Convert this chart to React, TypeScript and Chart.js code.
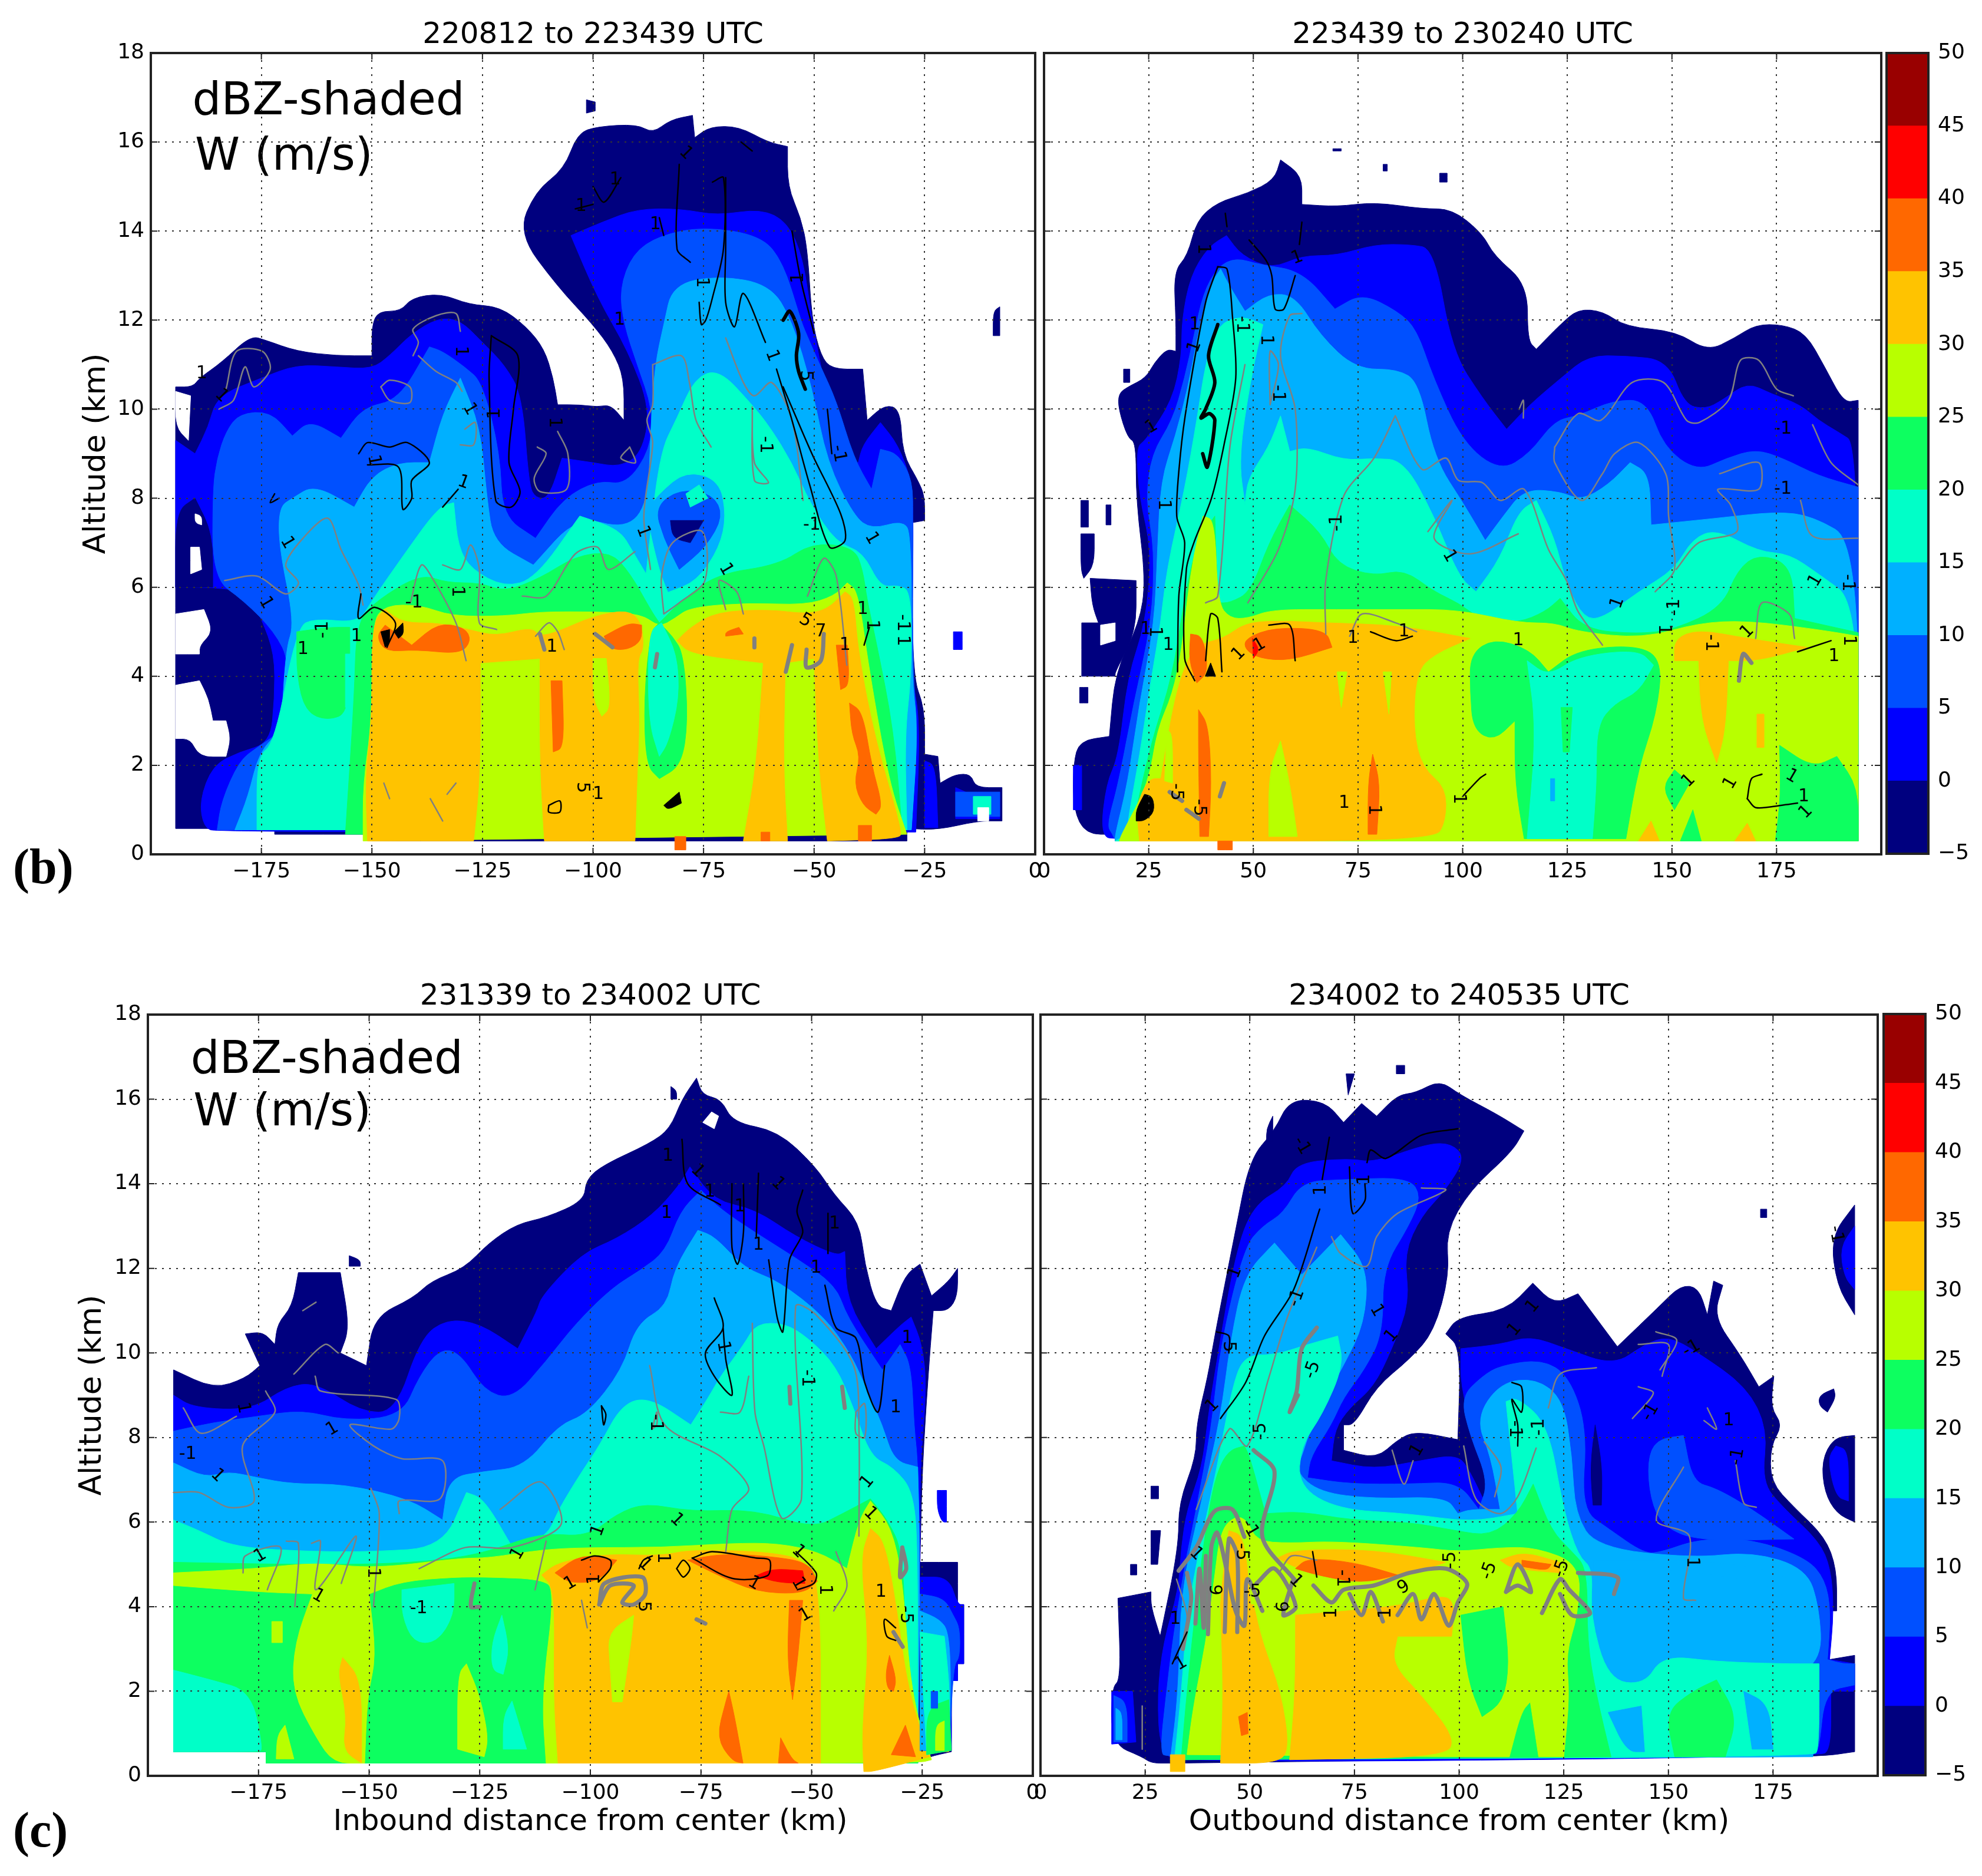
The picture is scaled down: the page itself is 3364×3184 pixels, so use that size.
import React, { useEffect, useRef } from "react";
import { Chart, registerables } from "chart.js";

Chart.register(...registerables);

// dBZ classes, -5 to 50 every 5
const dbzEdges = [-5, 0, 5, 10, 15, 20, 25, 30, 35, 40, 45, 50];
const dbzColors = ["#00007f", "#0000ff", "#0050ff", "#00b0ff", "#00ffc8", "#0dff60", "#b8ff00", "#ffc300", "#ff6800", "#ff0000", "#990000"];
const WHITE = -1;
const BLACK = -2;

type Layer = [number, number[]];
type Label = [number, number, string, number];

// ---------- 220812 to 223439 UTC
const a0 = [-194.4,10.5,-190.5,10.5,-189,10.7,-184,11.05,-177.5,11.65,-174,11.55,-167,11.3,-158,11.2,-150,11.2,-150,11.9,-148.5,12.2,-143.5,12.2,-141,12.5,-134.5,12.6,-128,12.35,-121,12.3,-115,11.85,-111,11.35,-109,10.7,-108,10.1,-103,10.1,-99,10.05,-96,10.1,-93,9.75,-93,10.7,-95.5,11.3,-100,11.9,-108,12.75,-117,13.95,-113,14.9,-106.5,15.4,-103.5,16.2,-99,16.35,-90,16.4,-86.5,16.2,-82.5,16.5,-77.5,16.6,-77,16.1,-73.5,16.35,-67,16.35,-60.5,16,-56,15.9,-56,15,-53,14.3,-51.5,13.6,-50.5,12,-48.5,11.2,-46,10.9,-39,10.9,-38,9.75,-34,10.1,-30.5,10,-30,9,-26.5,8.4,-25,8.05,-25,7.5,-27.8,7.45,-27.8,4,-25,3.3,-25,2.25,-22,2.2,-21.5,1.6,-18,1.8,-14.5,1.8,-13.5,1.5,-7.5,1.5,-7.5,0.75,-13,0.75,-22,0.55,-29,0.58,-29,0.3,-150,0.3,-150,0.45,-172,0.45,-172,0.58,-194.4,0.58];
const a0b = [-101.5,16.95,-99.5,16.9,-99.5,16.7,-101.5,16.65];
const a0c = [-9.5,12.2,-8,12.3,-8,11.65,-9.5,11.65];
const a0d = [-18.5,5,-16.5,5,-16.5,4.6,-18.5,4.6];
const a1 = [-194.4,9.3,-190,9,-187,9.6,-185,10.3,-175,10.7,-167,11,-158,10.95,-150,10.9,-146,11.2,-141,11.7,-135,12.05,-130,12,-125,11.5,-120,11,-116,10.3,-114.5,8.3,-113,8,-110,8,-107,8.9,-100,8.8,-94,8.7,-89,9,-87,10,-92,11.3,-99,12.5,-105,13.9,-98,14.2,-90,14.5,-80,14.5,-72,14.35,-62,14.5,-56,14.2,-52.5,13.4,-50.5,12,-48.5,11,-46,9.6,-44,8.8,-40,8.8,-39,9.2,-35,9.7,-31,9.2,-28,8.4,-27.5,7.5,-28,4,-26,3,-27,0.5,-185,0.5,-188,0.6,-189,1.2,-186,2,-180,2.3,-173,2.5,-172,3.5,-172,4.5,-175,5.3,-178,5.9,-186,6,-194.4,6];
const a1b = [-25,2.1,-22.5,2,-22,0.6,-25,0.6];
const a1c = [-18,1.5,-13.5,1.3,-8,1.4,-8,0.8,-18,0.8];
const a1d = [-18,1.4,-8,1.4,-8,0.85,-18,0.85];
const a1e = [-14,1.3,-10,1.3,-10,0.9,-14,0.9];
const a2 = [-185,0.55,-184,1.2,-180,2.1,-176,2.4,-170,2.8,-168.5,4.3,-172,5,-179,5.7,-186,6.2,-186,8.2,-185,8.9,-183,9.5,-180,9.9,-173,9.95,-168,9.4,-164,9.75,-157,9.35,-152,10.05,-144,10.2,-137,11.4,-134,11.3,-129,10.95,-125,10.6,-121,9,-120.5,7.6,-113,7.1,-106.7,8,-99,8.4,-92.5,8.3,-87,9.1,-86.5,10,-90,11,-93,11.9,-94,12.7,-91,13.5,-85,13.9,-75,14.1,-62,13.9,-57,13.3,-53,12,-51.8,11.7,-48.5,10.95,-45,10.2,-41,8.9,-37,8.2,-35,9.1,-31,9,-27.7,8.4,-27.7,7.5,-27.7,4,-26.5,2.8,-28,0.6];
const a3 = [-181,0.55,-178,1.3,-175.5,2.3,-170.5,2.8,-169.5,4.6,-167.5,5.2,-171,6.9,-171,7.8,-168,8,-163,8.3,-154,7.8,-150,8.5,-144,8.8,-137,8.8,-134,9.9,-130,10.7,-125.5,9.6,-124,8,-122.5,7,-113.5,6.5,-103.5,7.6,-92.5,7.3,-87.5,7.9,-87,9.5,-86,11,-84,11.9,-82,12.8,-71.5,13,-60,12.8,-55,12,-50.5,10.5,-47,8.8,-41,7.6,-37,7.3,-30,7.5,-28,7.2,-28,4,-26.5,2.8,-28,0.55];
const a4 = [-176,0.55,-176,2.2,-172,2.5,-167,5.1,-163,5.3,-153,5.2,-150,5.7,-143,6.7,-135,7.8,-131.5,7.9,-130.5,6.9,-127.5,6.4,-120,6,-113,6.2,-103,7.6,-94,7.3,-91,6.8,-88,6.3,-85,9,-81,9.8,-77,10.7,-71.5,10.9,-64,10.1,-60,9.6,-55,8.8,-51,7.9,-45,7,-39,6.8,-35,6,-31,6.05,-28,5.9,-28,4,-29.5,2.7,-29,0.55];
const a5 = [-156,0.45,-154,3.5,-153.5,5.2,-149,5.7,-139,6.3,-133,6.1,-125.5,6.1,-120,5.9,-112,6.2,-104,6.7,-96,6.8,-91.5,6.3,-87,5.5,-85,5.2,-80,5.7,-72,6.3,-58,6.5,-50.5,7,-41,6.9,-39,6.4,-38,5.7,-36,4.8,-32,2.8,-30,0.45];
const a5b = [-167,5,-160,5.1,-155,5.1,-155,3.2,-160,3,-165,3.2,-167,4];
const a6 = [-152,0.3,-152,1.6,-150,3,-150,5.2,-147,5.6,-139,5.6,-132,5.35,-120,5.35,-112,5.45,-99,5.45,-89,5.4,-85,5.1,-81.5,5.3,-78,5.55,-65,5.65,-52,5.6,-45.5,5.8,-42.5,6.1,-40,5.9,-37.5,4.1,-33,1.6,-29,0.45];
const a7 = [-151,0.3,-151.5,1.8,-150,3,-150,5.2,-147,5.5,-143,5.2,-135,5.2,-128,5.05,-122,4.9,-114,5.1,-112,4.9,-108,5,-100,5.35,-92,5.5,-89,5.2,-88.5,4.6,-90,4.4,-89.5,3,-90,1.8,-90.5,0.3,-111,0.3,-112,2,-112,4.4,-125.5,4.3,-125.5,1.8,-127,0.3];
const a7b = [-81,4.8,-78,5.1,-72,5.45,-60,5.5,-52,5.4,-47,5.5,-43,5.9,-41,5.75,-40,4.5,-36,2.5,-30,0.5,-31,0.35,-47,0.3,-49,2,-50,4.4,-56.5,4.3,-57,2,-56,0.3,-66,0.3,-63,2,-61.5,4.3,-78,4.5];
const a8 = [-149,4.9,-147,5.15,-141,4.7,-135,5.2,-129,5.1,-127.5,4.8,-130,4.5,-140,4.6,-147,4.55];
const a8b = [-97.5,4.9,-92,5.2,-89,5.15,-89,4.8,-92,4.6,-96,4.6];
const a8c = [-109.5,3.9,-107,3.9,-106.5,2.4,-109,2.3];
const a8d = [-42,3.4,-39,3.2,-37,2,-34.5,1.1,-36,0.9,-39,1.1,-41,1.6,-39.5,2.2,-41.5,2.7];
const a8e = [-45,4.7,-42.5,4.7,-42,3.8,-44,3.7];
const a8f = [-70,5,-67,5.1,-66,4.95,-70,4.9];
const a8g = [-62,0.3,-60,0.3,-60,0.5,-62,0.5];
const a8h = [-40,0.3,-37,0.3,-37,0.65,-40,0.65];
const a8i = [-81.5,0.1,-79,0.1,-79,0.4,-81.5,0.4];
const aCol4 = [-87,5,-85,5.2,-82,4.9,-79.5,4.5,-78.5,3,-80,2,-85,1.7,-88,2,-88.5,3.5];
const aCol3 = [-87.5,5,-84.5,5.2,-81,4.5,-80.5,3.5,-83,2.5,-85,2.2,-87.5,3];
const aNotch = [-100,4.4,-97,4.4,-96,3.3,-98,3.1,-100,3.5];
const aLeft3 = [-156,4.5,-154.5,4.5,-154.5,3.3,-156,3.3];
const aEyeRing = [-88,7.7,-85,8.1,-79,8.6,-71.5,8.4,-70,7.6,-71.5,6.9,-76.5,6.15,-83,5.9,-85,6.4];
const aEye5 = [-86,7.8,-80.5,8.2,-73,8.1,-70.5,7.6,-74.5,6.9,-80.5,6.4,-84,7.1];
const aEye0 = [-82.5,7.5,-75,7.5,-78,7,-82,7.1];
const aEyeTop = [-79,8.1,-76,8.3,-74,8,-78,7.8];
const aNavyLeft = [-194.4,7.7,-190,8,-186,7.2,-186,6,-194.4,6];
const aHoles = [
  [-194.4,5.4,-188,5.5,-186,5,-189,4.7,-189,4.5,-194.4,4.5],
  [-194.4,3.8,-189,3.9,-187,3.5,-186,3,-183,3,-182,2.6,-183,2.2,-189,2.2,-191,2.6,-194.4,2.6],
  [-191,6.9,-189,6.9,-188.5,6.4,-191,6.3],
  [-190,7.65,-188.5,7.6,-188.5,7.4,-190,7.45],
  [-194.4,10.4,-191,10.3,-191.5,9.3,-194.4,9.6],
  [-13,1.05,-10.5,1.05,-10.5,0.75,-13,0.75],
];
const layersA: Layer[] = [
  [0,a0],[0,a0b],[0,a0c],[1,a0d],[1,a1],[1,a1b],[1,a1c],[2,a1d],[4,a1e],[0,aNavyLeft],[2,a2],[3,a3],[4,a4],[5,a5],[5,a5b],[4,aLeft3],[6,a6],[7,a7],[7,a7b],
  [6,aNotch],[5,aCol4],[4,aCol3],[8,a8],[8,a8b],[8,a8c],[8,a8d],[8,a8e],[8,a8f],[8,a8g],[8,a8h],[8,a8i],
  [3,aEyeRing],[2,aEye5],[0,aEye0],[4,aEyeTop],
  ...aHoles.map((h): Layer => [WHITE,h]),
  [BLACK,[-148,5,-146,5.05,-146,4.75,-147,4.65]],[BLACK,[-145,5,-143,5.2,-142.8,4.95,-144,4.85]],[BLACK,[-84,1.1,-80.5,1.4,-80,1.15,-83,1]],
];
const blackA = [
  [-80.5,15.5,-81,13.6,-78,13.3],
  [-73,15.1,-70.5,15.2,-70.5,13.6,-73,12.5,-74.5,12,-75.5,11.9,-76,12.4],
  [-70,15.2,-70,13.6,-70,12.4,-68,11.85,-66,12.6,-61,11.5],
  [-58.5,10.9,-55,9.75,-51,8.3,-46.5,6.9,-43,7.05,-44,7.65,-50.5,9,-57,10.5],
  [-123,11.65,-117,11.2,-118,10,-119,8.8,-116.5,8.15,-118.5,7.8,-122,7.95,-123.5,10.7,-123,11.65],
  [-153,9,-151,9.25,-146,9.15,-142,9.25,-137,8.8,-141,8.4,-141,8,-143,7.75,-144,8.7,-151,8.75],
  [-55,14,-53,12.9,-50,11.7],
  [-47,10,-46,9],
  [-104,14.5,-100,14.6],
  [-100,15,-97.5,14.65,-93.7,15.2],
  [-66.5,16,-64,15.8],
  [-85,14.3,-84,13.9],
  [-152.5,5.85,-153,5.3,-149.4,5.55,-144.7,5.2,-146.6,4.65],
  [-110,1.1,-107.5,1.2,-107.5,0.95,-110,0.95,-110,1.1],
  [-38.7,4.7,-37.5,5.1],
  [-130.5,8.2,-134,7.8],
  [-171,8,-173,7.9,-172,8.1],
];
const heavyA = [[-57,12,-55.5,12.2,-53.5,11.7,-54,11.2,-53.5,10.85,-52,10.45]];
const grayA = [
  [-140.7,11.2,-139.5,11.5,-140.7,11.8,-135.5,12.1,-131,12.15,-130,11.75],
  [-139.5,11.2,-135.5,10.85,-131,10.6,-129.6,10.4],
  [-183,10.45,-180.6,11.3,-174.8,11.3,-173,10.9,-176.7,10.5,-178.7,10.95,-181.3,10.2,-184.6,10],
  [-148,10.5,-146,10.65,-141.4,10.5,-141.4,10.15,-146,10.2,-148,10.5],
  [-86.5,11,-80,11.2,-78.2,10.6,-76.7,9.75,-73.3,9.15],
  [-86.5,11,-86.5,10.1,-87.8,9.75,-86.5,9.25,-88.5,7.6,-87,6.4],
  [-70,11.6,-66,10.6,-63.5,10.3,-59.6,10.6,-55,9.75,-52.5,7.95],
  [-64,10.05,-63.5,8.8,-60.3,8.35,-63.5,8.4,-64,10.05],
  [-183.3,6.15,-176,6.25,-169.5,5.85,-166.6,6.1,-169.5,6.5,-165.6,7.1,-160,7.55,-157,6.85,-153,6.05,-152,5.6],
  [-134,6.5,-130,6.4,-127.7,6.95,-125.7,6.4,-125.7,5.2,-121.8,5.05],
  [-141.3,5.65,-138.8,6.5,-136,6.15,-131,5.2,-128.7,4.35],
  [-116,5.8,-110.6,5.8,-104,6.75,-99,6.9,-96.5,6.4,-90.5,6.8],
  [-84,5.4,-84.5,6.25,-82,7,-75.3,7.25,-74.7,6.15,-80.5,5.65,-84,5.4],
  [-70,5.5,-71.5,6.15,-67.5,5.9,-66,5.4],
  [-51.5,5.8,-47.8,6.65,-45,6.25,-42.6,4.25],
  [-147.3,1.6,-146,1.25],
  [-136.8,1.25,-134,0.75],
  [-131,1.6,-133,1.35],
  [-129,9.55,-126.6,9.7,-127,9.2,-130,9.2],
  [-112.6,9.15,-110.6,9,-113.3,8.45,-112,8.15,-106,8.2,-105.7,9,-108,9.5],
  [-91.7,9.15,-90.4,8.8,-93.7,8.9,-91.7,9.15],
  [-113,4.9,-110,5.2,-108,5,-106.5,4.6],
];
const thickGrayA = [
  [-112,4.95,-111,4.6],[-99.5,4.95,-95.6,4.65],[-56.4,4.1,-55,4.7],[-51.7,4.6,-51.7,4.2,-48.5,4.35,-47.8,4.95],[-63.5,4.85,-63.5,4.65],[-86,4.2,-85.5,4.5],
];
const labelsA: Label[] = [
  [-161,5.05,"-1",-90],[-165.6,4.6,"1",0],[-153.5,4.9,"1",0],[-140.5,5.65,"-1",0],[-130.7,5.9,"1",90],[-169.2,7,"1",60],[-174,5.65,"1",60],[-149.6,8.85,"1",80],[-129.3,8.35,"1",20],[-122.2,9.9,"1",-90],[-130,11.3,"1",90],[-127.9,10,"1",60],[-184,10.3,"1",45],[-188.5,10.8,"1",0],[-102.7,14.55,"1",0],[-95,15.15,"1",0],[-85.9,14.15,"1",0],[-79,15.75,"1",45],[-75.5,12.85,"1",90],[-94,12,"1",0],[-61,9.2,"-1",90],[-59.5,11.2,"1",70],[-52,10.75,"5",90],[-53.5,12.95,"1",-90],[-44.5,9,"-1",80],[-50.5,7.4,"-1",0],[-88.7,7.25,"1",70],[-70,6.4,"1",60],[-52,5.25,"5",30],[-48.5,5,"7",0],[-39,5.5,"1",0],[-37,7.1,"1",60],[-30,5.2,"-1",90],[-30,4.8,"1",90],[-43,4.7,"1",0],[-37,5.15,"1",90],[-108.8,9.7,"1",90],[-102.5,1.5,"5",90],[-98.8,1.35,"1",0],[-109.3,4.65,"1",0],
];

// ---------- 223439 to 230240 UTC
const b0 = [194.5,0.3,194.5,10.2,191,10.15,186.5,10.95,182,11.7,176.5,11.9,170,11.9,165,11.6,158.5,11.3,151,11.75,139,11.85,133.5,12.2,127.6,12.25,123.3,11.9,117.6,11.35,115.5,11.55,115.5,12.8,107.5,13.45,104.7,13.95,97.5,14.5,90.3,14.5,79,14.65,70,14.55,61.6,14.6,61.6,15.25,56.5,15.6,55,15.15,48.7,14.85,41.5,14.65,36.5,14.25,34.3,13.45,31,13.1,31.5,12,31.5,11.3,29.3,11.35,26.4,11.05,24.3,10.7,20,10.5,17.8,10.35,17.8,10,20,9.35,22,9.25,22,7.95,24.3,6.15,22.8,5.2,17,4.1,15.6,2.65,8.5,2.55,7,2.05,7,1,10,0.45,17,0.45,17,0.3];
const bNavyBlobs = [
  [8.8,7.95,10.6,7.95,10.6,7.35,8.8,7.35],
  [8.8,7.2,12,7.2,12,6.5,9.5,6.2,8.8,6.4],
  [11,6.2,22,6.15,22,5,17,4.1,17,4,9,4,9,5.2,13,5.2,11.5,5.6],
  [8.5,3.75,10.5,3.75,10.5,3.4,8.5,3.4],
  [14.8,7.85,16,7.85,16,7.4,14.8,7.4],
  [19,10.9,20.5,10.9,20.5,10.6,19,10.6],
  [81,15.5,82,15.5,82,15.35,81,15.35],
  [94.5,15.3,96.3,15.3,96.3,15.1,94.5,15.1],
  [69,15.85,71,15.85,71,15.8,69,15.8],
];
const b1 = [194.5,0.3,194.5,9.2,189.5,9.5,185,9.75,180.7,10.1,173.6,10.35,168,10.6,162,10.2,158,10,153,10.1,149,11.1,139,11.2,130,11.2,123.5,10.7,116,10.1,110.5,9.55,104.7,10.25,97.5,11.3,93.2,13.6,87.5,13.7,79,13.7,70,13.45,61.6,13.45,54.4,13.15,47.2,13.45,43.6,13.9,39.3,13.65,35,13,32.9,12,32.9,11.2,30.7,10.2,24.3,9.3,22,9.15,22.8,8,25.7,6.85,24.3,5.2,20,4,17.8,2.2,14.9,1.6,13.5,0.45,17,0.3];
const b1b = [7,2,9,2,9,1,7,1];
const b2 = [194.5,0.3,194.5,8.25,185,8.5,176.5,8.9,170,9.1,163,8.9,156,8.6,148,9.15,144,10.2,136,10.2,127.6,9.85,122,9.75,116,9,109,8.6,100,9.25,93,10.7,89,11.8,84.5,12.2,76,12.6,69.5,12.25,61.6,13.1,51.5,13.25,45.8,13.4,41.5,13.2,38,12.6,35.8,11.65,33.6,10.7,30.7,9.75,25.7,9,24.3,7.95,26.4,6.85,25.7,5.2,21.4,3.4,17.8,1.6,15,0.65,16.4,0.45,17,0.3];
const b3 = [194.5,0.3,194.5,7,183.6,7.6,175,7.7,160.7,7.55,145,7.4,144.6,8.55,140,8.8,134.8,8.3,128.4,7.95,123.3,8.15,114.7,8.2,109.7,7.6,105.4,7.05,100.4,7.85,93.2,8.9,89.6,10.6,84.5,10.9,74.5,10.9,66,11.65,60,12.55,53.7,12.6,48,12.2,44.4,12.75,42.2,13.15,39.3,12.75,36.5,11.55,34.3,10.45,31.4,9.4,27.9,8.4,27.1,6.85,26.4,5.2,22.8,3.4,20,1.6,17,0.45,17,0.3];
const b4 = [194.5,0.3,194.5,5.65,185,6.3,178,6.75,170.7,6.8,160.7,7.3,155,7.1,150.6,6.4,142,5.9,133.4,5.3,129,5.3,124.8,6.05,122,7.1,117.6,7.95,113.3,7.7,109,6.65,103.2,5.9,99,6.25,93.2,7.6,86,8.85,78.8,8.9,71.6,8.85,63,9.15,58.7,9.05,56.5,9.85,53.7,9.15,48.7,8.45,48,7.85,46.5,8.9,49.4,10.7,52.3,11.9,47.2,12.1,41.5,11.9,38.6,11.05,36.5,9.75,33.6,8.2,29.3,6.4,27.9,5.2,25.7,4,22.8,2.2,20,0.75,20,0.45,17,0.3];
const b5 = [194.5,0.3,194.5,4.98,179.3,5.3,178.6,6.5,170.7,6.75,165.7,6.4,162,5.55,150.6,5.05,142,4.95,129,5.05,123.3,5.75,119.7,5.45,113.3,5.2,104.7,5.25,99,5.65,93.2,5.9,86,6.4,78.8,6.25,70.2,6.5,66,7.25,58.7,7.85,53.7,7,49.4,5.9,44.4,5.65,41.5,5.65,40.8,7.6,36.5,7,33.6,5.8,30.7,4,25.7,2.55,22,1,20.7,0.4,18,0.3];
const b6 = [194.5,0.3,194.5,4.9,185,5.05,168,5.25,156.4,5.2,143,4.85,127.6,5,122,5.2,113.3,5.2,99,5.5,84.5,5.5,70,5.5,54.4,5.5,48.7,5.3,44.4,5.3,41.5,5.65,40.8,7.5,38,7.6,35.8,6.75,34.3,5.8,32.9,4.6,30.7,3.6,27,2.8,25,1.6,18.5,0.45,18,0.3];
const b7 = [32.9,4.05,36,4.7,43,4.85,48,5.2,55.9,5.25,67.3,5.2,84.6,5.15,101.8,4.85,93.2,4.5,88.9,4.1,88.2,2.8,90.3,1.95,96,1.5,96,0.75,93.2,0.3,22.8,0.3,22,1.1,25,1.7,27.9,1.7,30.7,3.25];
const b7b = [150.6,4.85,156.4,5.05,168,4.85,182.3,4.65,170.7,4.35,163.5,4.35,162.8,2.8,160.7,2.05,157,3,156.4,4.35,150.6,4.35];
const b7c = [170.3,3.15,172,3.15,172,2.4,170.3,2.4];
const b7d = [142,0.3,147,0.3,145,0.75];
const b7e = [165,0.3,170,0.3,168,0.7];
const bGreen = [101.8,4.5,107.5,4.85,116,4.6,120.5,4.1,127.6,4.6,142,4.7,147.7,4.35,146.3,3.15,142,1.95,139,0.35,114.7,0.35,112.5,1.6,112.5,3,107.5,2.55,102.5,2.8,101.8,3.65];
const bTeal = [115.4,4.35,120.5,4,127.6,4.45,142,4.6,145.6,4.25,142,3.65,136.3,3.4,132,2.9,132,1.6,131,0.35,115.4,0.35,117.6,2.8];
const bGreenSpot = [123.5,3.3,126.2,3.3,125.5,2.3,124,2.3];
const bBlueSpot = [121,1.7,122,1.7,122,1.2,121,1.2];
const bGreenRight = [175.7,2.45,183.6,1.95,189.4,2.2,194.5,1.5,194.5,0.3,174.7,0.3,176,1.3];
const bGreenA = [147.7,1.5,150.6,1.9,154.2,1.6,150.6,1];
const bGreenB = [152,0.3,155,1,157,0.3];
const bLimeA = [53.7,1.85,56.5,2.55,58.7,1.6,60.5,0.4,53.7,0.4];
const bLimeB = [70,4.1,72.4,4.1,71,3.3];
const bLimeC = [81,4.1,83,4.1,82.4,3.15];
const bLimeD = [29.3,2.8,30.7,2.7,30.7,1.6,28.8,1.65];
const b8 = [35,4.95,38,4.9,39.3,4.1,36.5,3.85,34.6,4.35];
const b8b = [48,4.85,55,5.1,67.3,5.05,68.8,4.65,58.7,4.35,51.5,4.4,48,4.6];
const b8c = [36.9,3.25,39.3,2.9,40,1.6,39.3,0.4,37.2,0.4,36.9,2.2];
const b8d = [77.4,1.6,78.5,2.25,80.3,1.6,79.5,0.45,77.4,0.45];
const b8e = [41.5,0.3,45,0.3,45,0.1,41.5,0.1];
const b9 = [49.8,4.85,51.5,4.6,50,4.4];
const bHoles = [[13.5,5.15,17,5.2,17,4.8,13.5,4.7]];
const layersB: Layer[] = [
  [0,b0],...bNavyBlobs.map((h): Layer => [0,h]),[1,b1b],[1,b1],[2,b2],[3,b3],[4,b4],[5,b5],[6,b6],[5,bGreen],[4,bTeal],[5,bGreenSpot],[3,bBlueSpot],[5,bGreenRight],[5,bGreenA],[5,bGreenB],
  [7,b7],[7,b7b],[7,b7c],[7,b7d],[7,b7e],[6,bLimeA],[6,bLimeB],[6,bLimeC],[6,bLimeD],[8,b8],[8,b8b],[8,b8c],[8,b8d],[8,b8e],[9,b9],
  ...bHoles.map((h): Layer => [WHITE,h]),
  [BLACK,[22,1,24,1.35,26,1.3,26.4,0.95,24,0.75,22,0.75]],[BLACK,[38.5,4,41,4,39.8,4.3]],
];
const blackB = [
  [41.5,13.2,43.7,13.15,45,12.1,45.8,10.7,43,9.2,40,8,35.8,7,34,6.4,33.6,4.4,36,3.9],
  [41.5,13.2,38.6,12.4,34.3,10.2,32.6,9,31.7,7.6,33.6,7,32.2,5.8,31.9,4.1],
  [38.6,4.35,39.8,5.4,41.5,5.3,42.5,4.1],
  [49,13.8,53,13.35,54.4,13,55.2,12.25,57.3,12.25,60,13],
  [61.6,14.2,61,13.7],
  [43.7,14.1,43.3,14.4],
  [53.7,5.15,58.7,5.15,60,4.35],
  [168,1.25,169,1.7,171.5,1.8],
  [168,1.25,170,1.05,176,1.1,180,1.15],
  [180,4.55,188,4.8],
  [100,1.3,104,1.7,105.5,1.8],
  [78,5,84,4.8,88,4.9],
];
const heavyB = [[41.5,11.9,39.3,11.2,40.8,10.6,38.6,10,37.5,9.8,39.5,9.9,40.8,9.75,39,8.7,37.9,9]];
const grayB = [
  [61.6,12.15,58.7,12.1,56.5,11.2,60,10,60,8.2,56,6.85,48.7,5.65],
  [48,11,44.4,9.15,41.5,5.8,38.6,5.65],
  [83.9,9.85,78.8,8.9,71.6,8.05,67.3,6.15,67.3,4.95],
  [83.9,9.85,90.3,8.65,96,8.9,99,8.4,104.7,8.35,109,7.95,114.7,8.2,120.5,6.85,124.8,6.15,127.6,5.45,133.4,4.7],
  [122,9.15,127.6,9.9,133,9.75,140.5,10.6,148,10.6,153.5,9.75,156.5,9.7,163.5,10.2,166.4,11.1,170.7,11.1,175,10.45,179,10.3],
  [122,9.15,122,8.8,128.4,7.95,133.4,8.55,136.3,9,142,9.25,148.5,8.55,149.2,7.6,150.6,6.4,146,5.9],
  [161.4,8.55,170.7,8.8,170.7,8.2,161,8.2,164,7.85,165.5,7.25,156.4,7,151,6.4],
  [183.6,9.65,188,8.8,194.5,8.3],
  [91.7,7.25,97.5,7.95,93.2,7.1,101.8,6.75,113.3,7.2],
  [180.7,7.95,183.6,7.15,194.5,7.1],
  [170,4.85,171.5,5.65,178,5.4,179.3,4.85],
  [54,10.1,56,11,54,11.3,54,10.1],
  [113.5,10,114.5,10.2,114.5,9.8],
  [73,4.9,76,5.4,84,5.2,89,5],
];
const thickGrayB = [[166,3.9,167,4.5,169,4.3],[34,1,37,0.8],[42,1.3,43,1.6],[30,1.4,33,1.2]];
const labelsB: Label[] = [
  [25.7,9.6,"1",-30],[28.5,7.85,"1",90],[36,11.9,"1",0],[36,11.4,"1",-70],[38,13.6,"1",90],[47.2,11.9,"-1",90],[53,11.55,"1",90],[55.9,10.35,"-1",90],[60.5,13.4,"1",-20],[70,7.45,"-1",-90],[96.8,6.7,"1",60],[24.3,5.05,"1",0],[26.4,5,"1",90],[29.7,4.7,"1",0],[46.5,4.5,"1",-45],[51.5,4.7,"1",-30],[113.3,4.8,"1",0],[73.8,4.85,"1",0],[86,5,"1",0],[137,5.65,"1",-70],[150.6,5.55,"-1",-90],[148,5.05,"1",90],[159.3,4.75,"-1",90],[168,5,"1",-45],[188.7,4.45,"1",0],[192.3,4.8,"1",90],[192,6.1,"-1",90],[184.3,6.15,"1",-60],[176.5,9.55,"-1",0],[176.5,8.2,"-1",0],[178.6,1.75,"1",30],[154,1.65,"1",-45],[164,1.6,"1",-60],[181.5,1.3,"1",0],[182,0.95,"1",-45],[31.5,1.4,"-5",90],[37,1.05,"-5",90],[71.7,1.15,"1",0],[78.8,1,"1",90],[99,1.25,"1",90],
];

// ---------- 231339 to 234002 UTC
const cTail = [-26,0.3,-173.3,0.3,-173.3,0.57,-194.2,0.57];
const c0 = [-194.2,9.6,-185,9.15,-178,9.4,-174.7,9.7,-178,10.45,-174,10.5,-171.3,10.2,-170.7,10.7,-167.4,11.1,-166,11.9,-156.5,11.9,-154.4,10.6,-156.5,10,-150.6,9.7,-149,10.85,-140,11.3,-136,11.7,-128.5,12,-123,12.6,-116.6,13.05,-110,13.2,-101.4,13.6,-101,14.1,-97,14.45,-86.6,14.95,-82,15.3,-79.3,16,-76,16.5,-74.7,16.1,-70.4,16,-67.8,15.45,-57.6,15.25,-49,14.4,-45,13.75,-39.2,13.1,-38,12.1,-35.4,11.1,-32,11,-28.8,11.85,-25.5,12.1,-22.9,11.35,-19,11.7,-17,12,-17,11.35,-19,11,-22.5,11,-23.5,9.7,-25,7.3,-25.5,5.05,-17,5.05,-17,4.05,-15.6,4.05,-15.6,2.65,-17,2.65,-17,2.25,-18.4,2.25,-18.4,0.57,-23.6,0.45,...cTail];
const c0b = [-154.5,12.3,-152,12.2,-152,12.05,-154.5,12.05];
const c0c = [-81.8,16.3,-80.5,16.2,-80.5,16,-81.8,16];
const c1 = [-194.2,9,-189.6,8.7,-176.5,8.65,-168.7,9.2,-162,9.3,-151.8,8.6,-144,8.6,-138.4,10.35,-132.5,10.8,-125,10.7,-116.4,10.1,-112,11,-111,11.35,-102,12.35,-94,12.7,-86,13.25,-80,13.95,-77.5,14.4,-72,13.6,-62.8,13.4,-53.6,12.75,-44.5,12.3,-42.5,12.4,-42,11.2,-35.4,10.1,-30,10.65,-27.5,10.85,-25,10.2,-24,9.2,-25.5,7.3,-25.5,5.05,...cTail];
const c1b = [-21.6,6.75,-19.5,6.75,-19.5,6,-20.5,6,-21.6,6.3];
const c2 = [-194.2,8.15,-185.5,8.35,-175.3,8.5,-165,8.65,-155.6,8.4,-142.6,8.5,-138.7,9.45,-134,10.1,-129.4,10,-124,9.1,-117.6,8.9,-110,9.8,-103.3,10.7,-95,11.55,-88.7,11.95,-83,12.4,-79.7,13.35,-75,13.85,-70.6,13.4,-62.8,12.85,-53.6,12.25,-44.5,11.6,-42,10.85,-34,9.6,-30,10.2,-27.5,9.7,-26.8,8.2,-26,7.45,-25.5,5.05,...cTail];
const c3 = [-194.2,7.4,-187,7.05,-181.8,7.2,-175.3,7.05,-167.4,6.9,-155.6,6.9,-141,6.55,-133.4,6.05,-132,7.05,-124,7.2,-115,7.3,-107.2,8.3,-100.7,8.55,-92.8,9.6,-89.5,10.7,-82.7,11.1,-81,12,-75.7,12.9,-71.8,12.75,-65.2,12,-57.4,11.7,-47,10.85,-41,9.95,-37.8,9.2,-34,8.3,-31.4,7.45,-26,7.3,-25.5,5.05,...cTail];
const c4 = [-194.2,6.05,-188.4,5.8,-180.5,5.4,-162,5.3,-149,5.3,-133.4,5.4,-128,6.7,-124,6.55,-117.6,5.4,-109.8,5.65,-107.2,6.3,-101.9,7.2,-98,7.8,-92.8,8.8,-86.6,8.95,-77.3,8.3,-73.3,8.95,-70.6,9.45,-65.3,10.2,-62.5,10.7,-56,10.7,-50.7,10.35,-44.5,9.7,-40.5,8.7,-36.7,7.55,-31.5,7.3,-26.8,6.7,-26,5.05,...cTail];
const c5 = [-194.2,5.05,-168.7,5,-149,5,-133.4,5.1,-123,5.3,-111.2,5.75,-100.7,5.65,-94,6.2,-87.6,6.45,-77.3,6.25,-62.8,6.3,-49.7,5.85,-43,6.2,-36.7,6.55,-32.8,6.05,-29.4,5.3,-28.8,3.15,-25.5,0.63,...cTail];
const cTealA = [-142.6,4.4,-130.8,4.55,-130.8,3.8,-134.7,3.15,-140,3.15,-142.6,3.8];
const cTealB = [-122.3,3.15,-120,3.8,-118.3,3,-119.7,2.4,-122.3,2.5];
const cTealC = [-194.2,2.5,-185.7,2.27,-176.6,2,-174,0.63,-175,0.57,-194.2,0.57];
const cTealD = [-119.7,1.4,-117.7,1.77,-114.4,0.63,-119.7,0.63];
const c6 = [-194.2,4.8,-175.3,4.9,-162,5.05,-149,4.9,-129.4,5.15,-123,5.15,-111,5.35,-100.7,5.4,-84,5.4,-68,5.5,-57.6,5.5,-48.4,5.3,-42,4.9,-39.3,6.05,-36.7,6.5,-32,5.9,-29.4,4.65,-27.5,1.9,-22.9,0.38,-26,0.3,-110,0.3,-111,1.9,-108,4.4,-111,4.65,-123,4.7,-130.8,4.7,-142.6,4.6,-150,4.3,-148.4,2.8,-150.4,1.9,-151,0.3,-158,0.3,-162,0.9,-167.4,2,-166.8,3.15,-162.8,4.3,-175.3,4.35,-194.2,4.5];
const c6b = [-130,2.4,-128,2.65,-125,1.9,-123,0.9,-124,0.45,-130,0.63];
const c6c = [-172,3.65,-169.6,3.65,-169.6,3.15,-172,3.15];
const c6d = [-170.8,0.95,-169,1.2,-167,0.4,-171,0.4];
const c7 = [-111,4.75,-107.3,5.05,-96.8,5.25,-84,5.2,-77.3,5.35,-60,5.3,-51,5.1,-48,4.3,-48,0.3,-107.3,0.3,-108.3,1.9,-108,4.4];
const c7b = [-39,5.15,-36.7,5.85,-33.5,5.55,-30.8,4,-28.2,2,-23.3,0.45,-36,0.1,-38.2,0.1,-38.6,1.1,-37,3.15];
const c7c = [-157,2.4,-156,2.8,-151.7,2.27,-151.7,0.3,-156,0.6,-155,1.4];
const c7d = [-21.5,1,-19,1,-19,0.57,-21.5,0.57];
const cLime = [-96,3.4,-90.2,3.8,-90.8,3.15,-92.8,1.75,-95,1.75,-95.6,2.65];
const c8 = [-108,4.8,-102,5.25,-94,5.1,-98,4.6,-104.6,4.55];
const c8b = [-78,5.1,-70.6,5.25,-60,5.2,-50.7,5.05,-48.7,4.6,-52,4.3,-62.6,4.35,-71.3,4.75];
const c8c = [-55,4.15,-52,4.15,-53,2.9,-54.3,1.8,-55.5,2.75];
const c8d = [-69.4,1.75,-68.7,2,-67.4,1.4,-65.5,0.3,-68,0.35,-71.5,0.9];
const c8e = [-57,0.9,-54.5,0.4,-53,0.3,-57.5,0.3];
const c8f = [-33.3,2.4,-32.4,2.85,-30.8,2.27,-31.5,2,-32.8,2.05];
const c8g = [-32,0.5,-28.8,1.2,-26.5,0.45];
const c9 = [-62.6,4.73,-58.8,4.9,-52,4.85,-51.5,4.55,-57.6,4.57];
const cRight1 = [-25.5,4.7,-19,4.7,-17,4.05,-15.6,4.05,-15.6,2.65,-17,2.65,-17,2.25,-18.4,2.25,-18.4,0.6,-25.5,0.6];
const cRight2 = [-25.5,4.3,-20,4.2,-18,3.8,-16.5,3.5,-16.5,2.8,-18,2.6,-18.8,0.6,-25.5,0.6];
const cRight3 = [-25.5,3.9,-21,3.7,-19,3.4,-18.5,2.2,-19,0.6,-25.5,0.6];
const cRight4 = [-25.5,3.4,-20,3.3,-18.7,2,-19,0.6,-24,0.5];
const cRight5 = [-24,1.6,-19,1.8,-18.4,0.6,-24,0.5];
const cRight6 = [-22,1.2,-20,1.3,-20,0.6,-22,0.6];
const cBlueSpot = [-23,2,-21.5,2,-21.5,1.6,-23,1.6];
const cHoles = [[-74.6,15.45,-72.6,15.7,-71,15.6,-72,15.3]];
const layersC: Layer[] = [
  [0,c0],[0,c0b],[0,c0c],[1,c1],[1,c1b],[2,c2],[3,c3],[4,c4],[5,c5],[4,cTealA],[4,cTealB],[4,cTealC],[4,cTealD],[6,c6],[6,c6b],[6,c6c],[6,c6d],[7,c7],[7,c7b],[7,c7c],[7,c7d],[6,cLime],
  [8,c8],[8,c8b],[8,c8c],[8,c8d],[8,c8e],[8,c8f],[8,c8g],[9,c9],
  [1,cRight1],[2,cRight2],[3,cRight3],[4,cRight4],[5,cRight5],[6,cRight6],[2,cBlueSpot],
  ...cHoles.map((h): Layer => [WHITE,h]),
];
const blackC = [
  [-72,11.3,-70,10.6,-74,10,-72,9.45,-68,9,-69.4,9.85,-70,10.6],
  [-68,14,-68,12.5,-66.7,12.1,-65.4,12.85,-65.4,14],
  [-62,14.25,-62.5,12.75],
  [-59.7,12.2,-57.8,10.85,-56.5,10.5,-55,12.2,-52,12.85,-53.3,13.35,-52,13.85],
  [-47,11.6,-44.5,10.6,-40,10.35,-38,9.3,-35,8.6,-33.5,9.7],
  [-46.3,13.3,-46.3,12.35],
  [-79.3,15.05,-78,14,-70.6,13.5],
  [-77,5.15,-72.5,5.3,-62.6,5.15,-59.5,5.1,-60,4.73,-68,4.67,-77,5.15],
  [-102,5.1,-99,5.2,-95.5,5.1,-95.5,4.9,-98,4.6],
  [-53.5,5.3,-49,4.8,-49.5,4.55,-53.2,4.4],
  [-80.5,4.9,-79,5.1,-77.5,4.9,-79,4.7,-80.5,4.9],
  [-97.5,8.75,-96.5,8.55,-97,8.3,-97.5,8.75],
  [-86,5.2,-88,5.1,-89,4.9],
  [-31,3.5,-33.5,3.7,-33,3.3,-31,3.2],
];
const grayC = [
  [-162.2,9.45,-161,9.1,-143.9,8.9,-143.2,8.45,-145,8.2,-154.3,8.3,-149,7.8,-142.6,7.5,-133.4,7.45,-134,6.55,-143.2,6.5,-143.2,6.2],
  [-194.2,6.7,-188.4,6.7,-181.8,6.35,-176,6.5,-178.6,7.8,-171.3,8.6,-173.4,9.1],
  [-63.4,10.7,-62.8,8.6,-60.8,7.8,-56.8,6.1,-52.3,6.55,-53.6,11.1,-49,10.9,-40.5,9.7,-39.3,8.2,-39.3,5.67],
  [-86.6,9.7,-83.2,8.3,-70.6,7.55,-64.2,6.8,-68,6.3,-69.4,5.3],
  [-70.6,8.6,-66.2,8.6,-64.2,9.45],
  [-120.4,6.3,-111.2,6.95,-106.6,5.95,-117.7,5.4,-128.2,5.4,-138.7,4.9],
  [-149.6,6.8,-147.7,6.2,-149,4],
  [-168.7,5.55,-166,5.5,-166.8,4],
  [-163,5.5,-161,5.55,-162,4.4,-153,5.67,-156.3,4.55],
  [-178.5,4.8,-178,5.2,-170,5.4,-173,4.4],
  [-110,5.55,-112.5,4.4],
  [-102,4.15,-100.7,3.5],
  [-180,8.5,-188,8.1,-192,8.7],
  [-167,9.5,-160,10.2,-157,10],
  [-165,11,-162,11.2],
  [-86,8.2,-85,8.6,-85,8.3,-86,8.2],
  [-40,8.6,-38,8.8,-38,8,-40,8.1,-40,8.6],
  [-44.5,5.3,-42,4.5,-45,3.9],
];
const thickGrayC = [
  [-98,4.05,-96.8,4.55,-88.3,4.7,-87.6,4.3,-90.2,4.05,-92.8,4.1,-90.2,4.5,-95.5,4.5,-98,4.05],
  [-43.1,9.2,-42.5,8.7],[-55,9.2,-54.8,8.8],[-31.5,3.4,-29.4,3.05],
  [-29.5,5.4,-28.6,4.9,-30,4.7,-29.5,5.4],[-126.2,4.55,-127,4,-125,4],[-76,3.7,-74,3.6],
];
const labelsC: Label[] = [
  [-178.5,8.7,"1",80],[-158.3,8.2,"1",-30],[-191,7.6,"-1",0],[-184.3,7.1,"1",45],[-174.6,5.2,"1",-30],[-149.2,4.8,"1",90],[-161.5,4.25,"1",30],[-138.8,3.95,"-1",0],[-116.4,5.25,"1",-60],[-98.2,5.8,"1",-70],[-104.5,4.55,"1",-30],[-99,4.65,"1",-90],[-80.5,6.05,"1",45],[-83.7,5.15,"1",90],[-87.7,5,"1",45],[-88,4,"5",90],[-63,4.55,"1",30],[-53,5.3,"1",45],[-53,4.55,"1",60],[-47,4.4,"1",90],[-51.4,3.8,"1",-30],[-34.3,4.35,"1",0],[-28.8,3.8,"-5",90],[-36.7,6.2,"1",45],[-37.4,6.95,"1",-50],[-31,8.7,"1",0],[-28.4,10.35,"1",0],[-49,12,"1",0],[-44.8,13.05,"1",0],[-62,12.55,"1",0],[-66.2,13.45,"1",0],[-73,13.8,"1",0],[-70,10.15,"1",80],[-82.8,13.3,"1",0],[-82.5,14.65,"1",0],[-75.8,14.3,"1",45],[-57.6,14,"1",45],[-51,9.4,"-1",90],[-85.3,8.35,"-1",90],
];

// ---------- 234002 to 240535 UTC
const d0 = [17,0.75,17,2.1,19.2,2.27,18.5,4.2,26.4,4.35,26.4,4,28.6,3.3,33,5.4,33,6.45,37.2,7.55,37.2,8.3,40,9.45,41.5,10.35,46.5,12.85,50,14.6,55.9,15.25,59.5,16,68,15.95,72.4,15.45,76.7,15.9,80.3,15.6,85.3,16.1,89.6,16.15,95.4,16.45,100.3,16.1,109,15.65,115.5,15.25,112.6,14.75,102.6,13.85,96.8,12.85,97.7,11.85,94,10.5,88.2,9.85,80.2,9.2,75,8.3,72.4,8.3,72.4,7.7,80.3,7.5,85.3,7.95,89.6,8.15,99.7,7.95,100.4,10.1,96.8,10.45,99.7,10.85,111.2,11,117.6,11.65,122.7,11.15,128.4,11.4,137.8,10.15,147.8,11.1,152.9,11.6,157.2,11.55,159.3,10.9,160.8,11.7,163,11.6,160.8,10.85,167.2,9.95,171.6,9.2,175.2,9.45,174.4,8.7,177.3,8.3,174.4,7.8,174.4,6.95,180,6.35,187.4,5.65,190.2,4.9,190.2,3.9,188.5,3.9,188.5,2.75,194.5,2.85,194.5,0.57,186,0.45,151.5,0.45,33.6,0.3,30.7,0.3,26.4,0.3,24.3,0.45];
const dBlobs = [
  [186.6,7.45,189.5,8,194.5,8.05,194.5,6,190.2,6.2,187.3,6.7],
  [188.8,12.75,194.5,13.5,194.5,10.9,190.2,11.6],
  [186,9,189.5,9.15,190,8.95,188,8.6,186,8.75],
  [26.4,6.85,28.2,6.85,28.2,6.55,26.4,6.55],
  [26.4,5.8,28.7,5.8,28,5,26.4,5],
  [21.5,5,23,5,23,4.75,21.5,4.75],
  [85,16.8,87,16.8,87,16.6,85,16.6],
  [73,16.6,75,16.6,73.5,16.1],
  [172,13.4,173.5,13.4,173.5,13.2,172,13.2],
  [54,15.3,55.5,15.6,55.5,15,54,15],
];
const d1 = [41.5,9.45,46.5,12.35,50.9,13.5,58.8,13.95,61.2,14.5,73.8,14.6,79.6,14.5,92.5,14.95,98.3,14.95,101.4,14.6,96.8,13.85,91,13.25,86.8,12.35,88.2,11.2,84,10.1,79.6,9.2,73.8,8.7,70.3,8.2,69.5,7.45,79.6,7.25,90.5,7.45,99.7,7.6,102.6,7.2,106.2,6.45,107,6.95,103.3,8.2,100.4,9.2,100.4,10.1,109.8,10.2,117,10.4,125.6,10.1,137,9.7,144.2,10.2,150,10.4,157.2,10,168.7,9.2,173.7,8.2,172.3,6.95,177.3,6.35,186,5.55,188.8,4.9,189.5,3.9,188.5,2.75,194.5,2.65,194.5,2,188.8,2,188.8,0.63,186,0.45,33.6,0.3,28.6,0.57,27.9,1.9,29.3,3.15,33,4.4,33.6,5.4,35,6.3,38.6,7.3,40,8.45];
const d1b = [188,7.5,190,7.8,193,7.7,193,6.5,190,6.6];
const d1c = [191,12.5,194.5,13,194.5,11.5,192,11.8];
const d2 = [43,10.2,48.7,12.5,53,13,58,13.3,62.4,14.05,72.4,14.1,88,14.15,91,13.7,88,13,81.8,12,81.8,10.45,77.4,9.6,72.4,8.95,69.5,8.3,64.5,7.55,63.8,7.05,73.8,6.9,88.2,6.9,99.7,6.95,104.7,6.3,107,6.95,102.6,8.05,100.4,8.95,105.5,9.45,109.8,9.7,119.8,9.85,126.3,9.45,130.6,8.2,129.2,6.3,135.6,5.85,144.3,5.25,148.6,5.3,157.2,5.6,170.1,5.6,183,5.15,187.4,4.65,188.8,3.9,188,2.75,191.7,2.65,194.5,2.65,194.5,2.15,187.4,2,186,0.63,184.5,0.45,30,0.38,28.6,0.63,30,1.9,31.5,3.15,34.3,4.9,37.2,6.3,40.8,8.2];
const d2b = [145,7.45,147.1,7.95,153.6,8.05,155.8,6.95,161.5,6.8,170.1,6.3,180,5.6,157.2,5.55,148.6,5.9,145.7,6.55];
const d3 = [45.4,10.3,48.7,11.85,55.9,12.6,62.4,11.85,71.7,12.8,78.2,12,77.4,10.7,72.4,9.7,68.1,8.95,64.5,8.2,62.4,7.55,60.9,7.2,66.7,6.7,79.6,6.55,96.8,6.6,99.7,6.2,102.6,6.3,109.8,6.3,107.6,7.55,104,8.45,109.8,9.3,118.4,9.4,124.9,8.9,127,7.55,127.7,6.2,132.8,5.4,155.7,5.15,170.1,5.3,183,4.9,186,4,186.7,2.75,178.7,2.27,185,1,184.5,0.45,31,0.38,32.9,1.9,33.6,4.4,38,6.3,43,8.45];
const d4 = [48.7,9.95,56,9.95,63.8,10.2,71,10.4,72.4,9.7,67.4,8.55,62.2,7.8,61.6,6.85,71,6.3,88.2,6.2,102.6,6,114,6.2,111.2,8.85,114,8.95,121.3,8.3,124.9,6.3,128.4,5.2,132,4.9,131.3,3.8,135.6,2.27,144.3,2.15,148.6,2.85,161.5,2.7,177,2.65,186,2.65,186,0.63,184.5,0.45,32,0.38,33.6,1.9,35,3.8,38,5.4,42.2,7.3,45.8,9.2];
const d4b = [132,5.1,161.5,5.1,181.6,4.7,183.7,3.4,181.6,3.3,178.7,4.4,160,4.8,142.8,4.9,132,4.85];
const d3b = [135.6,1.5,143.5,1.65,144.3,0.57,140,0.57];
const d3c = [168,2,174,1.7,175,0.63,170,0.63];
const d5 = [33.6,0.38,35,2,37.2,4.15,40,6.2,42.2,7.2,45,7.7,48.7,7.8,50,7.55,53.7,6.2,62.4,6.25,73.8,6.05,88.2,6,99,5.8,107.5,5.67,114,6.2,117.7,6.9,122,5.8,127,5.3,130.6,4.9,130.6,3.15,132.8,1.9,136.3,0.45];
const d5b = [149.3,1.5,155.7,2,161.5,2.27,166.5,1.4,163.6,0.45,151.5,0.45];
const d6 = [35,0.5,36.5,1.65,39.5,3.15,41.5,4.65,43,5.8,46.5,6.15,49.4,6.05,51.6,5.55,59.5,5.5,70,5.55,91,5.4,99.7,5.3,109.8,5.4,118.4,5.4,129,5,128.4,3.8,125.5,2.9,126.4,1.9,125,0.45,119,0.45,117,1.75,114.8,1.5,112,0.45,99.7,0.45];
const dGreen = [100.4,3.8,110.5,4,112,2.65,110.5,1.75,105.5,1.4,102,2.27];
const d7a = [43,4.05,50.9,4.05,53,3.15,57.4,2,59.5,0.63,56.6,0.3,43,0.3,43.7,1.9];
const d7b = [60.9,3.8,85.3,4,96.8,4.3,99,4,98.2,3.3,85.3,3.3,83.9,2.65,91,1.9,99,0.9,96.8,0.45,59.5,0.38,60.9,2];
const d7c = [56.6,5.15,60.9,5.35,79.6,5.35,96.8,5.05,91,4.85,79.6,4.55,62.4,4.85];
const d7d = [43.7,4.9,45,5.8,48.7,5.67,50.2,4.05,43,4.05];
const d7e = [109.8,5.1,115.5,5.3,124,5.05,124,4.8,112.6,4.9];
const d7f = [31,0.1,34.5,0.1,34.5,0.5,31,0.5];
const d8a = [60.9,4.9,63.8,5.15,75,5.05,85.3,4.75,76.7,4.55,66.7,4.73];
const d8b = [47.3,1.4,49.4,1.5,49.6,1,48,0.95];
const d8c = [115,5.1,122,5,121,4.85,115,4.95];
const dNavyCol = [131.3,7.3,132.5,8.3,134.2,7.3,134,6.4,132,6.4];
const dLow1 = [17,2,22,2,22.8,0.8,17,0.75];
const dLow2 = [17.5,1.9,20.7,1.75,20.7,0.8,17.5,0.8];
const dLow3 = [18,1.6,19.5,1.5,19.5,0.85,18,0.85];
const layersD: Layer[] = [
  [0,d0],...dBlobs.map((h): Layer => [0,h]),[1,d1],[1,d1b],[1,d1c],[0,dNavyCol],[2,d2],[2,d2b],[3,d3],[4,d4],[3,d3b],[3,d3c],[3,d4b],[5,d5],[5,d5b],[6,d6],[5,dGreen],
  [7,d7a],[7,d7b],[7,d7c],[7,d7d],[7,d7e],[7,d7f],[8,d8a],[8,d8b],[8,d8c],[1,dLow1],[2,dLow2],[3,dLow3],
];
const blackD = [
  [66.7,13.4,60.5,11.5,53.5,10.4,49,9.3,43,8.45],
  [69,15.1,67.3,14.1],
  [73.8,14.4,74.6,13.3,77.5,13.6,77.5,14],
  [78,14.5,78.9,14.8,82.5,14.6,91,15.15,99.7,15.3],
  [112.6,9.3,114.9,9.2,114.9,8.6,112.6,8.9,114,8.3,114,7.8],
  [35,3.4,31.5,2.65],
  [65,5.3,65.5,5,66,4.7],
  [42,10.5,45,10.4,45,10],
];
const grayThinD = [
  [37.2,6.3,45.1,8.2,49.4,7.8,54.5,9.4,59,10.85,66,12.5],
  [91,13.9,96.8,13.85,85.3,13.3,80.3,12.75,77.9,12.05,71.7,12.35,69.5,12.75],
  [101.1,7.8,104,6.55,109.8,6.2,114,6.6,118.4,7.75],
  [121.3,8.7,124.1,9.5,132.8,9.65],
  [142.8,9.2,146.4,9.05,141.4,8.45],
  [153.6,7.3,147.1,6.05,155,5.67,153.6,4.2,156.5,4.15],
  [159.3,8.7,161.5,8.2,158.5,8.4],
  [166,7.45,168,6.45,171,6.35],
  [24.3,1.65,24.3,0.63],
  [32.5,4.65,35,3.8,34.3,3.3],
  [148.5,9.45,150,10.2,142.8,10.2],
  [84,7.7,86.8,6.9,89,7.45],
  [57,4.8,60,5.2,66,5.1],
  [147,10.5,152,10.3,148,9.6],
  [106,7.9,110,7.3,108.5,6.6],
];
const thickGrayD = [
  [40,3.35,40.8,5.4,42.2,5.75,44.4,4.9,46.6,3.9,48.7,3.55,49.4,4.65,53,3.9],
  [33,4.85,37.2,5.4,41.5,6.25,45.8,6.3,48.7,5.65],
  [51.6,4.55,55.9,4.9,61,4,58,3.8,60.2,4.6],
  [65.2,4.5,69.5,4.1,72.4,4.4,79.6,4.5,88.2,4.8,96.8,4.9,101.9,4.55,99.7,4.1,97.5,3.55,94,4.3,91,3.7,89,4.3,85.3,3.8],
  [73.8,4.3,76.7,3.8,78.9,4.35,81.8,3.65],
  [111.2,4.35,114,5,117.2,4.35,114,4.5,111.2,4.35],
  [119.8,3.85,124.1,4.65,126.3,4.4,131.3,3.85,127,3.8,124.1,4.3],
  [128.4,4.8,137.8,4.7,137,4.3],
  [50.9,7.7,55.9,7.2,53,5.65,61,4.6],
  [66,10.6,62.4,10.1,61.2,9.1,59.5,8.6,61.5,9],
  [37,3.6,38,4.9,39,3.5,39.5,5.2],
  [44,3.4,45,5.6,47,5.2,47,3.4],
  [34,3,36,4.2,35,4.8],
];
const labelsD: Label[] = [
  [32.2,3.7,"1",0],[33.6,2.65,"1",-30],[37.2,5.25,"1",45],[41.1,8.75,"1",-45],[44.8,10.15,"5",90],[46.5,11.9,"1",-70],[62.4,14.9,"-1",60],[67,13.85,"1",-90],[77.5,14.1,"1",-90],[61.2,11.3,"-1",-70],[80.3,11,"1",60],[83.9,10.4,"1",-50],[65,9.6,"-5",-70],[52.6,8.15,"-5",-90],[50,5.85,"-1",60],[48,5.3,"-5",90],[41.5,4.4,"9",90],[50.6,4.35,"-5",0],[57.3,4,"9",90],[61,4.6,"1",45],[72,4.67,"-1",90],[69.5,3.85,"1",-90],[86.8,4.45,"9",-30],[82.5,3.85,"1",-90],[98,5.1,"-5",-90],[107.2,4.85,"-5",-70],[124.5,4.9,"-5",-70],[155.7,5.05,"1",90],[113.3,8.2,"-1",90],[119.1,8.25,"-1",-90],[113.3,10.55,"1",-50],[117.6,11.1,"1",-50],[155.5,10.1,"-1",-30],[145.7,8.6,"-1",-60],[164.4,8.4,"1",0],[166.5,7.55,"-1",-80],[90,7.7,"1",-60],[190,12.8,"-1",80],
];

const altitudeTicks = { min: 0, max: 18, step: 2 };
const distanceStep = 25;

const toPoints = (flat: number[]) => {
  const out: { x: number; y: number }[] = [];
  for (let i = 0; i + 1 < flat.length; i += 2) out.push({ x: flat[i], y: flat[i + 1] });
  return out;
};

const fillColor = (lvl: number) => (lvl === WHITE ? "#ffffff" : lvl === BLACK ? "#000000" : dbzColors[lvl]);
const minusSign = (v: number) => String(v).replace("-", "\u2212");

// walk the outline through edge midpoints, rounding soft bends and keeping hard corners
const traceOutline = (ctx: CanvasRenderingContext2D, pts: any[]) => {
  const n = pts.length;
  pts.forEach((pt, i) => {
    const prev = pts[(i + n - 1) % n];
    const next = pts[(i + 1) % n];
    const ax = pt.x - prev.x, ay = pt.y - prev.y, bx = next.x - pt.x, by = next.y - pt.y;
    const cos = (ax * bx + ay * by) / (Math.hypot(ax, ay) * Math.hypot(bx, by) || 1);
    const mx = (pt.x + next.x) / 2, my = (pt.y + next.y) / 2;
    if (i === 0) ctx.moveTo((prev.x + pt.x) / 2, (prev.y + pt.y) / 2);
    if (cos < 0.3) {
      ctx.lineTo(pt.x, pt.y);
      ctx.lineTo(mx, my);
    } else {
      ctx.quadraticCurveTo(pt.x, pt.y, mx, my);
    }
  });
  ctx.closePath();
};

interface PanelProps {
  title: string;
  xMin: number;
  xMax: number;
  layers: Layer[];
  black: number[][];
  heavy: number[][];
  gray: number[][];
  thickGray: number[][];
  labels: Label[];
  note?: [number, number];
  xTitle?: string;
  showY: boolean;
  left: number;
  top: number;
  width: number;
  height: number;
  axisW: number;
  axisH: number;
  rightPad: number;
}

const Panel: React.FC<PanelProps> = (p) => {
  const ref = useRef<HTMLCanvasElement | null>(null);

  useEffect(() => {
    if (!ref.current) return;
    const lines = (list: number[][], color: string, w: number) =>
      list.map((l) => ({ data: toPoints(l), showLine: true, tension: 0.3, pointRadius: 0, borderColor: color, borderWidth: w, borderJoinStyle: "round", borderCapStyle: "round" }));
    const datasets: any[] = [
      ...p.layers.map(([lvl, flat]) => ({ data: toPoints(flat), pointRadius: 0, shade: fillColor(lvl) })),
      ...lines(p.gray, "#808080", 2.5),
      ...lines(p.thickGray, "#808080", 7),
      ...lines(p.black, "#000000", 2.5),
      ...lines(p.heavy, "#000000", 6),
    ].reverse(); // chart.js paints the first dataset last

    const chart = new Chart(ref.current, {
      type: "scatter",
      data: { datasets },
      options: {
        animation: false,
        responsive: false,
        devicePixelRatio: 1,
        layout: { padding: { right: p.rightPad } },
        plugins: {
          legend: { display: false },
          tooltip: { enabled: false },
          title: {
            display: true,
            text: p.title,
            fullSize: false,
            font: { family: "DejaVu Sans", size: 50, weight: "normal" },
            color: "#000",
            padding: { top: 30, bottom: 0 },
          },
        },
        scales: {
          x: {
            type: "linear",
            min: p.xMin,
            max: p.xMax,
            afterFit: (s: any) => { s.height = p.axisH; },
            border: { display: false, dash: [3, 9] },
            grid: { z: 1, color: "#333", lineWidth: 2, drawTicks: false },
            ticks: {
              stepSize: distanceStep,
              autoSkip: false,
              maxRotation: 0,
              padding: 8,
              color: "#000",
              font: { family: "DejaVu Sans", size: 36 },
              callback: (v: any) => (Math.abs(v) === 200 ? "" : minusSign(v)),
            },
            title: {
              display: !!p.xTitle,
              text: p.xTitle,
              color: "#000",
              font: { family: "DejaVu Sans", size: 50 },
              padding: { top: 0, bottom: 0 },
            },
          },
          y: {
            type: "linear",
            min: altitudeTicks.min,
            max: altitudeTicks.max,
            afterFit: (s: any) => { s.width = p.axisW; },
            border: { display: false, dash: [3, 9] },
            grid: { z: 1, color: "#333", lineWidth: 2, drawTicks: false },
            ticks: {
              display: p.showY,
              stepSize: altitudeTicks.step,
              padding: 11,
              color: "#000",
              font: { family: "DejaVu Sans", size: 36 },
            },
            title: {
              display: p.showY,
              text: "Altitude (km)",
              color: "#000",
              font: { family: "DejaVu Sans", size: 52 },
              padding: { top: 13, bottom: 0 },
            },
          },
        },
      },
      plugins: [
        {
          id: "contourPlot",
          // shaded classes are closed outlines, the line element would not fill those
          beforeDatasetDraw: (c: any, args: any) => {
            const ds = c.data.datasets[args.index];
            if (!ds.shade) return;
            const ctx = c.ctx;
            ctx.save();
            ctx.beginPath();
            ctx.rect(c.chartArea.left, c.chartArea.top, c.chartArea.width, c.chartArea.height);
            ctx.clip();
            ctx.beginPath();
            traceOutline(ctx, args.meta.data);
            ctx.fillStyle = ds.shade;
            ctx.strokeStyle = ds.shade;
            ctx.lineWidth = 1;
            ctx.fill();
            ctx.stroke();
            ctx.restore();
            return false;
          },
          afterDatasetsDraw: (c: any) => {
            const { ctx, scales } = c;
            ctx.save();
            ctx.fillStyle = "#000";
            ctx.textAlign = "center";
            ctx.textBaseline = "middle";
            ctx.font = "30px 'DejaVu Sans'";
            p.labels.forEach(([x, y, txt, rot]) => {
              ctx.save();
              ctx.translate(scales.x.getPixelForValue(x), scales.y.getPixelForValue(y));
              ctx.rotate((rot * Math.PI) / 180);
              ctx.fillText(txt, 0, 0);
              ctx.restore();
            });
            if (p.note) {
              ctx.textAlign = "left";
              ctx.textBaseline = "alphabetic";
              ctx.font = "77px 'DejaVu Sans'";
              ctx.fillText("dBZ-shaded", scales.x.getPixelForValue(p.note[0]), scales.y.getPixelForValue(16.62));
              ctx.fillText("W (m/s)", scales.x.getPixelForValue(p.note[0] + 0.6), scales.y.getPixelForValue(15.38));
            }
            ctx.restore();
          },
          afterDraw: (c: any) => {
            const { ctx, chartArea: a, scales } = c;
            ctx.save();
            ctx.strokeStyle = "#222";
            ctx.lineWidth = 2;
            ctx.beginPath();
            scales.x.ticks.forEach((t: any) => {
              const px = scales.x.getPixelForValue(t.value);
              ctx.moveTo(px, a.bottom);
              ctx.lineTo(px, a.bottom - 11);
              ctx.moveTo(px, a.top);
              ctx.lineTo(px, a.top + 11);
            });
            scales.y.ticks.forEach((t: any) => {
              const py = scales.y.getPixelForValue(t.value);
              ctx.moveTo(a.left, py);
              ctx.lineTo(a.left + 11, py);
              ctx.moveTo(a.right, py);
              ctx.lineTo(a.right - 11, py);
            });
            ctx.stroke();
            ctx.lineWidth = 4;
            ctx.strokeRect(a.left, a.top, a.width, a.height);
            ctx.restore();
          },
        } as any,
      ],
    } as any);

    return () => {
      chart.destroy();
    };
  }, []);

  return (
    <canvas
      ref={ref}
      width={p.width}
      height={p.height}
      style={{ position: "absolute", left: p.left, top: p.top, width: p.width, height: p.height }}
    />
  );
};

const ColorBar: React.FC<{ left: number; top: number; width: number; height: number; padTop: number; padBottom: number; padLeft: number; axisW: number }> = (p) => {
  const ref = useRef<HTMLCanvasElement | null>(null);

  useEffect(() => {
    if (!ref.current) return;
    const chart = new Chart(ref.current, {
      type: "bar",
      data: {
        labels: ["dBZ"],
        datasets: dbzColors.map((color, i) => ({
          data: [[dbzEdges[i], dbzEdges[i + 1]]],
          backgroundColor: color,
          borderWidth: 0,
          barPercentage: 1,
          categoryPercentage: 1,
          grouped: false,
        })),
      } as any,
      options: {
        animation: false,
        responsive: false,
        devicePixelRatio: 1,
        layout: { padding: { top: p.padTop, bottom: p.padBottom, left: p.padLeft } },
        plugins: { legend: { display: false }, tooltip: { enabled: false } },
        scales: {
          x: { display: false },
          y: {
            position: "right",
            min: dbzEdges[0],
            max: dbzEdges[dbzEdges.length - 1],
            afterFit: (s: any) => { s.width = p.axisW; },
            border: { display: false },
            grid: { display: false },
            ticks: {
              stepSize: 5,
              padding: 8,
              color: "#000",
              font: { family: "DejaVu Sans", size: 36 },
              callback: (v: any) => minusSign(v),
            },
          },
        },
      },
      plugins: [
        {
          id: "barFrame",
          afterDraw: (c: any) => {
            const { ctx, chartArea: a } = c;
            ctx.save();
            ctx.strokeStyle = "#222";
            ctx.lineWidth = 4;
            ctx.strokeRect(a.left, a.top, a.width, a.height);
            ctx.restore();
          },
        } as any,
      ],
    } as any);
    return () => {
      chart.destroy();
    };
  }, []);

  return (
    <canvas
      ref={ref}
      width={p.width}
      height={p.height}
      style={{ position: "absolute", left: p.left, top: p.top, width: p.width, height: p.height }}
    />
  );
};

const tagStyle: React.CSSProperties = {
  position: "absolute",
  left: 22,
  fontFamily: "'Liberation Serif'",
  fontWeight: "bold",
  fontSize: 84,
  lineHeight: "90px",
  color: "#000",
};

export default function App() {
  return (
    <div style={{ position: "absolute", left: 0, top: 0, width: 3364, height: 3184, background: "#fff", overflow: "hidden" }}>
      <Panel title="220812 to 223439 UTC" xMin={-200} xMax={0} layers={layersA} black={blackA} heavy={heavyA} gray={grayA} thickGray={thickGrayA} labels={labelsA} note={[-190.6, 0]} showY left={120} top={0} width={1670} height={1561} axisW={136} axisH={111} rightPad={33} />
      <Panel title="223439 to 230240 UTC" xMin={0} xMax={200} layers={layersB} black={blackB} heavy={heavyB} gray={grayB} thickGray={thickGrayB} labels={labelsB} showY={false} left={1740} top={0} width={1475} height={1561} axisW={32} axisH={111} rightPad={22} />
      <Panel title="231339 to 234002 UTC" xMin={-200} xMax={0} layers={layersC} black={blackC} heavy={[]} gray={grayC} thickGray={thickGrayC} labels={labelsC} note={[-190.3, 0]} xTitle="Inbound distance from center (km)" showY left={113} top={1632} width={1672} height={1491} axisW={138} axisH={109} rightPad={32} />
      <Panel title="234002 to 240535 UTC" xMin={0} xMax={200} layers={layersD} black={blackD} heavy={[]} gray={grayThinD} thickGray={thickGrayD} labels={labelsD} xTitle="Outbound distance from center (km)" showY={false} left={1735} top={1632} width={1474} height={1491} axisW={31} axisH={109} rightPad={22} />
      <ColorBar left={3190} top={40} width={174} height={1460} padTop={50} padBottom={51} padLeft={12} axisW={91} />
      <ColorBar left={3185} top={1671} width={179} height={1392} padTop={50} padBottom={50} padLeft={12} axisW={96} />
      <div style={{ ...tagStyle, top: 1426 }}>(b)</div>
      <div style={{ ...tagStyle, top: 3061 }}>(c)</div>
    </div>
  );
}
